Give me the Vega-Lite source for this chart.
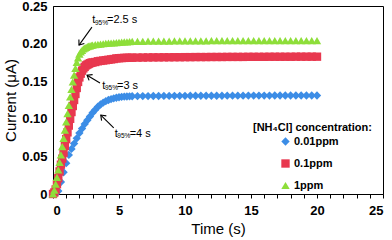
{
  "$schema": "https://vega.github.io/schema/vega-lite/v6.json",
  "width": 330,
  "height": 188,
  "autosize": "none",
  "padding": {"left": 53, "top": 6, "right": 9, "bottom": 46},
  "config": {
    "font": "Liberation Sans",
    "view": {"stroke": "#000", "strokeWidth": 1},
    "axis": {"grid": false, "domainColor": "#000", "tickColor": "#000", "labelColor": "#000", "titleColor": "#000", "labelFont": "Liberation Sans", "titleFont": "Liberation Sans"},
    "legend": {"labelFont": "Liberation Sans"}
  },
  "datasets": {
    "pts": [
      {"t":0,"c":0,"s":"0.01ppm"},{"t":0.2,"c":0,"s":"0.01ppm"},{"t":0.4,"c":0.004,"s":"0.01ppm"},{"t":0.6,"c":0.016,"s":"0.01ppm"},{"t":0.8,"c":0.029,"s":"0.01ppm"},{"t":1.0,"c":0.041,"s":"0.01ppm"},{"t":1.2,"c":0.052,"s":"0.01ppm"},{"t":1.4,"c":0.060,"s":"0.01ppm"},{"t":1.6,"c":0.067,"s":"0.01ppm"},{"t":1.8,"c":0.074,"s":"0.01ppm"},{"t":2.0,"c":0.081,"s":"0.01ppm"},{"t":2.2,"c":0.087,"s":"0.01ppm"},{"t":2.4,"c":0.093,"s":"0.01ppm"},{"t":2.6,"c":0.098,"s":"0.01ppm"},{"t":2.8,"c":0.103,"s":"0.01ppm"},{"t":3.0,"c":0.108,"s":"0.01ppm"},{"t":3.2,"c":0.112,"s":"0.01ppm"},{"t":3.4,"c":0.116,"s":"0.01ppm"},{"t":3.6,"c":0.119,"s":"0.01ppm"},{"t":3.8,"c":0.1215,"s":"0.01ppm"},{"t":4.0,"c":0.1235,"s":"0.01ppm"},{"t":4.2,"c":0.125,"s":"0.01ppm"},{"t":4.4,"c":0.1262,"s":"0.01ppm"},{"t":4.6,"c":0.1272,"s":"0.01ppm"},{"t":4.8,"c":0.128,"s":"0.01ppm"},{"t":5.0,"c":0.1287,"s":"0.01ppm"},{"t":5.2,"c":0.1292,"s":"0.01ppm"},{"t":5.4,"c":0.1295,"s":"0.01ppm"},{"t":5.6,"c":0.1297,"s":"0.01ppm"},{"t":5.8,"c":0.1299,"s":"0.01ppm"},{"t":6.0,"c":0.13,"s":"0.01ppm"},
      {"t":6.4,"c":0.1301,"s":"0.01ppm"},{"t":6.8,"c":0.1302,"s":"0.01ppm"},{"t":7.2,"c":0.1302,"s":"0.01ppm"},{"t":7.6,"c":0.1303,"s":"0.01ppm"},{"t":8.0,"c":0.1303,"s":"0.01ppm"},{"t":8.4,"c":0.1304,"s":"0.01ppm"},{"t":8.8,"c":0.1304,"s":"0.01ppm"},{"t":9.2,"c":0.1305,"s":"0.01ppm"},{"t":9.6,"c":0.1305,"s":"0.01ppm"},{"t":10.0,"c":0.1305,"s":"0.01ppm"},{"t":10.4,"c":0.1306,"s":"0.01ppm"},{"t":10.8,"c":0.1306,"s":"0.01ppm"},{"t":11.2,"c":0.1306,"s":"0.01ppm"},{"t":11.6,"c":0.1307,"s":"0.01ppm"},{"t":12.0,"c":0.1307,"s":"0.01ppm"},{"t":12.4,"c":0.1307,"s":"0.01ppm"},{"t":12.8,"c":0.1307,"s":"0.01ppm"},{"t":13.2,"c":0.1308,"s":"0.01ppm"},{"t":13.6,"c":0.1308,"s":"0.01ppm"},{"t":14.0,"c":0.1308,"s":"0.01ppm"},{"t":14.4,"c":0.1308,"s":"0.01ppm"},{"t":14.8,"c":0.1309,"s":"0.01ppm"},{"t":15.2,"c":0.1309,"s":"0.01ppm"},{"t":15.6,"c":0.1309,"s":"0.01ppm"},{"t":16.0,"c":0.1309,"s":"0.01ppm"},{"t":16.4,"c":0.1309,"s":"0.01ppm"},{"t":16.8,"c":0.131,"s":"0.01ppm"},{"t":17.2,"c":0.131,"s":"0.01ppm"},{"t":17.6,"c":0.131,"s":"0.01ppm"},{"t":18.0,"c":0.131,"s":"0.01ppm"},{"t":18.4,"c":0.131,"s":"0.01ppm"},{"t":18.8,"c":0.131,"s":"0.01ppm"},{"t":19.2,"c":0.131,"s":"0.01ppm"},{"t":19.6,"c":0.131,"s":"0.01ppm"},{"t":20.0,"c":0.131,"s":"0.01ppm"},

      {"t":0,"c":0,"s":"0.1ppm"},{"t":0.1,"c":0.002,"s":"0.1ppm"},{"t":0.2,"c":0.006,"s":"0.1ppm"},{"t":0.3,"c":0.013,"s":"0.1ppm"},{"t":0.4,"c":0.021,"s":"0.1ppm"},{"t":0.5,"c":0.030,"s":"0.1ppm"},{"t":0.6,"c":0.039,"s":"0.1ppm"},{"t":0.7,"c":0.047,"s":"0.1ppm"},{"t":0.8,"c":0.055,"s":"0.1ppm"},{"t":0.9,"c":0.064,"s":"0.1ppm"},{"t":1.0,"c":0.073,"s":"0.1ppm"},{"t":1.1,"c":0.082,"s":"0.1ppm"},{"t":1.2,"c":0.091,"s":"0.1ppm"},{"t":1.3,"c":0.100,"s":"0.1ppm"},{"t":1.4,"c":0.109,"s":"0.1ppm"},{"t":1.5,"c":0.117,"s":"0.1ppm"},{"t":1.6,"c":0.125,"s":"0.1ppm"},{"t":1.7,"c":0.133,"s":"0.1ppm"},{"t":1.8,"c":0.141,"s":"0.1ppm"},{"t":1.9,"c":0.149,"s":"0.1ppm"},{"t":2.0,"c":0.155,"s":"0.1ppm"},{"t":2.1,"c":0.160,"s":"0.1ppm"},{"t":2.2,"c":0.164,"s":"0.1ppm"},{"t":2.3,"c":0.167,"s":"0.1ppm"},{"t":2.4,"c":0.169,"s":"0.1ppm"},{"t":2.5,"c":0.171,"s":"0.1ppm"},{"t":2.6,"c":0.172,"s":"0.1ppm"},{"t":2.7,"c":0.173,"s":"0.1ppm"},{"t":2.8,"c":0.174,"s":"0.1ppm"},{"t":2.9,"c":0.1745,"s":"0.1ppm"},{"t":3.0,"c":0.175,"s":"0.1ppm"},
      {"t":3.2,"c":0.1755,"s":"0.1ppm"},{"t":3.4,"c":0.1765,"s":"0.1ppm"},{"t":3.6,"c":0.177,"s":"0.1ppm"},{"t":3.8,"c":0.1775,"s":"0.1ppm"},{"t":4.0,"c":0.178,"s":"0.1ppm"},{"t":4.2,"c":0.1785,"s":"0.1ppm"},{"t":4.4,"c":0.179,"s":"0.1ppm"},{"t":4.6,"c":0.1795,"s":"0.1ppm"},{"t":4.8,"c":0.1803,"s":"0.1ppm"},{"t":5.0,"c":0.1806,"s":"0.1ppm"},{"t":5.2,"c":0.1808,"s":"0.1ppm"},{"t":5.4,"c":0.181,"s":"0.1ppm"},{"t":5.6,"c":0.1811,"s":"0.1ppm"},{"t":5.8,"c":0.1812,"s":"0.1ppm"},{"t":6.0,"c":0.1813,"s":"0.1ppm"},
      {"t":6.4,"c":0.1814,"s":"0.1ppm"},{"t":6.8,"c":0.1815,"s":"0.1ppm"},{"t":7.2,"c":0.1816,"s":"0.1ppm"},{"t":7.6,"c":0.1817,"s":"0.1ppm"},{"t":8.0,"c":0.1817,"s":"0.1ppm"},{"t":8.4,"c":0.1818,"s":"0.1ppm"},{"t":8.8,"c":0.1818,"s":"0.1ppm"},{"t":9.2,"c":0.1819,"s":"0.1ppm"},{"t":9.6,"c":0.1819,"s":"0.1ppm"},{"t":10.0,"c":0.182,"s":"0.1ppm"},{"t":10.4,"c":0.182,"s":"0.1ppm"},{"t":10.8,"c":0.1821,"s":"0.1ppm"},{"t":11.2,"c":0.1821,"s":"0.1ppm"},{"t":11.6,"c":0.1821,"s":"0.1ppm"},{"t":12.0,"c":0.1822,"s":"0.1ppm"},{"t":12.4,"c":0.1822,"s":"0.1ppm"},{"t":12.8,"c":0.1822,"s":"0.1ppm"},{"t":13.2,"c":0.1823,"s":"0.1ppm"},{"t":13.6,"c":0.1823,"s":"0.1ppm"},{"t":14.0,"c":0.1823,"s":"0.1ppm"},{"t":14.4,"c":0.1823,"s":"0.1ppm"},{"t":14.8,"c":0.1824,"s":"0.1ppm"},{"t":15.2,"c":0.1824,"s":"0.1ppm"},{"t":15.6,"c":0.1824,"s":"0.1ppm"},{"t":16.0,"c":0.1824,"s":"0.1ppm"},{"t":16.4,"c":0.1825,"s":"0.1ppm"},{"t":16.8,"c":0.1825,"s":"0.1ppm"},{"t":17.2,"c":0.1825,"s":"0.1ppm"},{"t":17.6,"c":0.1825,"s":"0.1ppm"},{"t":18.0,"c":0.1825,"s":"0.1ppm"},{"t":18.4,"c":0.1826,"s":"0.1ppm"},{"t":18.8,"c":0.1826,"s":"0.1ppm"},{"t":19.2,"c":0.1826,"s":"0.1ppm"},{"t":19.6,"c":0.1826,"s":"0.1ppm"},{"t":20.0,"c":0.1826,"s":"0.1ppm"},

      {"t":0,"c":0,"s":"1ppm"},{"t":0.1,"c":0.005,"s":"1ppm"},{"t":0.2,"c":0.013,"s":"1ppm"},{"t":0.3,"c":0.022,"s":"1ppm"},{"t":0.4,"c":0.032,"s":"1ppm"},{"t":0.5,"c":0.042,"s":"1ppm"},{"t":0.6,"c":0.052,"s":"1ppm"},{"t":0.7,"c":0.063,"s":"1ppm"},{"t":0.8,"c":0.074,"s":"1ppm"},{"t":0.9,"c":0.085,"s":"1ppm"},{"t":1.0,"c":0.096,"s":"1ppm"},{"t":1.1,"c":0.107,"s":"1ppm"},{"t":1.2,"c":0.118,"s":"1ppm"},{"t":1.3,"c":0.129,"s":"1ppm"},{"t":1.4,"c":0.139,"s":"1ppm"},{"t":1.5,"c":0.149,"s":"1ppm"},{"t":1.6,"c":0.158,"s":"1ppm"},{"t":1.7,"c":0.167,"s":"1ppm"},{"t":1.8,"c":0.175,"s":"1ppm"},{"t":1.9,"c":0.181,"s":"1ppm"},{"t":2.0,"c":0.186,"s":"1ppm"},{"t":2.1,"c":0.189,"s":"1ppm"},{"t":2.2,"c":0.191,"s":"1ppm"},{"t":2.3,"c":0.193,"s":"1ppm"},{"t":2.4,"c":0.194,"s":"1ppm"},{"t":2.5,"c":0.195,"s":"1ppm"},{"t":2.6,"c":0.196,"s":"1ppm"},{"t":2.7,"c":0.1965,"s":"1ppm"},{"t":2.8,"c":0.197,"s":"1ppm"},{"t":2.9,"c":0.1975,"s":"1ppm"},{"t":3.0,"c":0.198,"s":"1ppm"},
      {"t":3.2,"c":0.1985,"s":"1ppm"},{"t":3.4,"c":0.199,"s":"1ppm"},{"t":3.6,"c":0.1994,"s":"1ppm"},{"t":3.8,"c":0.1998,"s":"1ppm"},{"t":4.0,"c":0.2002,"s":"1ppm"},{"t":4.2,"c":0.2005,"s":"1ppm"},{"t":4.4,"c":0.2008,"s":"1ppm"},{"t":4.6,"c":0.2011,"s":"1ppm"},{"t":4.8,"c":0.2014,"s":"1ppm"},{"t":5.0,"c":0.2017,"s":"1ppm"},{"t":5.2,"c":0.202,"s":"1ppm"},{"t":5.4,"c":0.2022,"s":"1ppm"},{"t":5.6,"c":0.2024,"s":"1ppm"},{"t":5.8,"c":0.2026,"s":"1ppm"},{"t":6.0,"c":0.2028,"s":"1ppm"},
      {"t":6.4,"c":0.203,"s":"1ppm"},{"t":6.8,"c":0.2031,"s":"1ppm"},{"t":7.2,"c":0.2032,"s":"1ppm"},{"t":7.6,"c":0.2033,"s":"1ppm"},{"t":8.0,"c":0.2033,"s":"1ppm"},{"t":8.4,"c":0.2034,"s":"1ppm"},{"t":8.8,"c":0.2034,"s":"1ppm"},{"t":9.2,"c":0.2035,"s":"1ppm"},{"t":9.6,"c":0.2035,"s":"1ppm"},{"t":10.0,"c":0.2036,"s":"1ppm"},{"t":10.4,"c":0.2036,"s":"1ppm"},{"t":10.8,"c":0.2037,"s":"1ppm"},{"t":11.2,"c":0.2037,"s":"1ppm"},{"t":11.6,"c":0.2037,"s":"1ppm"},{"t":12.0,"c":0.2038,"s":"1ppm"},{"t":12.4,"c":0.2038,"s":"1ppm"},{"t":12.8,"c":0.2038,"s":"1ppm"},{"t":13.2,"c":0.2039,"s":"1ppm"},{"t":13.6,"c":0.2039,"s":"1ppm"},{"t":14.0,"c":0.2039,"s":"1ppm"},{"t":14.4,"c":0.2039,"s":"1ppm"},{"t":14.8,"c":0.204,"s":"1ppm"},{"t":15.2,"c":0.204,"s":"1ppm"},{"t":15.6,"c":0.204,"s":"1ppm"},{"t":16.0,"c":0.204,"s":"1ppm"},{"t":16.4,"c":0.204,"s":"1ppm"},{"t":16.8,"c":0.204,"s":"1ppm"},{"t":17.2,"c":0.2041,"s":"1ppm"},{"t":17.6,"c":0.2041,"s":"1ppm"},{"t":18.0,"c":0.2041,"s":"1ppm"},{"t":18.4,"c":0.2041,"s":"1ppm"},{"t":18.8,"c":0.2041,"s":"1ppm"},{"t":19.2,"c":0.2041,"s":"1ppm"},{"t":19.6,"c":0.2041,"s":"1ppm"},{"t":20.0,"c":0.2041,"s":"1ppm"}
    ],
    "arrows": [
      {"x1":2.95,"y1":0.222,"x2":1.97,"y2":0.198,"ang":125.8},
      {"x1":3.56,"y1":0.1476,"x2":2.58,"y2":0.158,"ang":211.6},
      {"x1":4.6,"y1":0.0878,"x2":3.62,"y2":0.105,"ang":225}
    ],
    "labels": [
      {"x":2.977,"y":0.2270,"txt":"t","k":"main"},
      {"x":3.18,"y":0.2251,"txt":"95%","k":"sub"},
      {"x":4.09,"y":0.2270,"txt":"=2.5 s","k":"main"},
      {"x":3.735,"y":0.1396,"txt":"t","k":"main"},
      {"x":3.94,"y":0.1379,"txt":"95%","k":"sub"},
      {"x":4.85,"y":0.1396,"txt":"=3 s","k":"main"},
      {"x":4.674,"y":0.0758,"txt":"t","k":"main"},
      {"x":4.87,"y":0.0741,"txt":"95%","k":"sub"},
      {"x":5.81,"y":0.0758,"txt":"=4 s","k":"main"},
      {"x":15.15,"y":0.0878,"txt":"[NH₄Cl] concentration:","k":"leg"}
    ]
  },
  "layer": [
    {
      "data": {"name": "pts"},
      "mark": {"type": "point", "filled": true, "opacity": 1, "strokeWidth": 0},
      "encoding": {
        "x": {"field": "t", "type": "quantitative", "scale": {"domain": [0, 25], "nice": false},
          "axis": {"values": [0,1,2,3,4,5,6,7,8,9,10,11,12,13,14,15,16,17,18,19,20,21,22,23,24,25],
            "labelExpr": "datum.value % 5 === 0 ? datum.label : ''", "tickSize": 4, "labelPadding": 6,
            "labelFontSize": 13, "labelFontWeight": "bold", "title": "Time (s)", "titleFontSize": 15,
            "titleFontWeight": "normal", "titlePadding": 4}},
        "y": {"field": "c", "type": "quantitative", "scale": {"domain": [0, 0.25], "nice": false},
          "axis": {"values": [0, 0.05, 0.1, 0.15, 0.2, 0.25],
            "labelExpr": "datum.value === 0 ? '0' : format(datum.value, '.2f')", "ticks": false, "labelPadding": 6,
            "labelFontSize": 13, "labelFontWeight": "bold", "title": "Current (μA)", "titleFontSize": 15,
            "titleFontWeight": "normal", "titlePadding": 3}},
        "color": {"field": "s", "type": "nominal",
          "scale": {"domain": ["0.01ppm", "0.1ppm", "1ppm"], "range": ["#3C8DE6", "#E8384F", "#8EDE3A"]},
          "legend": {"orient": "none", "legendX": 227, "legendY": 130, "title": null, "padding": 0,
            "symbolSize": 30, "symbolStrokeWidth": 0, "labelFontSize": 11, "labelFontWeight": "bold",
            "labelOffset": 3, "rowPadding": 10}},
        "shape": {"field": "s", "type": "nominal",
          "scale": {"domain": ["0.01ppm", "0.1ppm", "1ppm"], "range": ["diamond", "square", "triangle-up"]}},
        "size": {"field": "s", "type": "nominal",
          "scale": {"domain": ["0.01ppm", "0.1ppm", "1ppm"], "range": [70, 70, 90]}, "legend": null}
      }
    },
    {
      "data": {"name": "arrows"},
      "mark": {"type": "rule", "color": "#000", "strokeWidth": 1.1},
      "encoding": {
        "x": {"field": "x1", "type": "quantitative",
          "axis": {"values": [0,1,2,3,4,5,6,7,8,9,10,11,12,13,14,15,16,17,18,19,20,21,22,23,24,25],
            "labelExpr": "datum.value % 5 === 0 ? datum.label : ''", "tickSize": 4, "labelPadding": 6,
            "labelFontSize": 13, "labelFontWeight": "bold", "title": "Time (s)", "titleFontSize": 15,
            "titleFontWeight": "normal", "titlePadding": 4}},
        "y": {"field": "y1", "type": "quantitative",
          "axis": {"values": [0, 0.05, 0.1, 0.15, 0.2, 0.25],
            "labelExpr": "datum.value === 0 ? '0' : format(datum.value, '.2f')", "ticks": false, "labelPadding": 6,
            "labelFontSize": 13, "labelFontWeight": "bold", "title": "Current (μA)", "titleFontSize": 15,
            "titleFontWeight": "normal", "titlePadding": 3}},
        "x2": {"field": "x2"},
        "y2": {"field": "y2"}
      }
    },
    {
      "data": {"name": "arrows"},
      "mark": {"type": "point", "shape": "M-1,-0.75L0,0L-1,0.75", "filled": false, "stroke": "#000", "strokeWidth": 1.1, "size": 80, "opacity": 1},
      "encoding": {
        "x": {"field": "x2", "type": "quantitative",
          "axis": {"values": [0,1,2,3,4,5,6,7,8,9,10,11,12,13,14,15,16,17,18,19,20,21,22,23,24,25],
            "labelExpr": "datum.value % 5 === 0 ? datum.label : ''", "tickSize": 4, "labelPadding": 6,
            "labelFontSize": 13, "labelFontWeight": "bold", "title": "Time (s)", "titleFontSize": 15,
            "titleFontWeight": "normal", "titlePadding": 4}},
        "y": {"field": "y2", "type": "quantitative",
          "axis": {"values": [0, 0.05, 0.1, 0.15, 0.2, 0.25],
            "labelExpr": "datum.value === 0 ? '0' : format(datum.value, '.2f')", "ticks": false, "labelPadding": 6,
            "labelFontSize": 13, "labelFontWeight": "bold", "title": "Current (μA)", "titleFontSize": 15,
            "titleFontWeight": "normal", "titlePadding": 3}},
        "angle": {"field": "ang", "type": "quantitative", "scale": null}
      }
    },
    {
      "data": {"name": "labels"},
      "transform": [{"filter": "datum.k === 'main'"}],
      "mark": {"type": "text", "align": "left", "baseline": "alphabetic", "fontSize": 11, "color": "#000"},
      "encoding": {
        "x": {"field": "x", "type": "quantitative",
          "axis": {"values": [0,1,2,3,4,5,6,7,8,9,10,11,12,13,14,15,16,17,18,19,20,21,22,23,24,25],
            "labelExpr": "datum.value % 5 === 0 ? datum.label : ''", "tickSize": 4, "labelPadding": 6,
            "labelFontSize": 13, "labelFontWeight": "bold", "title": "Time (s)", "titleFontSize": 15,
            "titleFontWeight": "normal", "titlePadding": 4}},
        "y": {"field": "y", "type": "quantitative",
          "axis": {"values": [0, 0.05, 0.1, 0.15, 0.2, 0.25],
            "labelExpr": "datum.value === 0 ? '0' : format(datum.value, '.2f')", "ticks": false, "labelPadding": 6,
            "labelFontSize": 13, "labelFontWeight": "bold", "title": "Current (μA)", "titleFontSize": 15,
            "titleFontWeight": "normal", "titlePadding": 3}},
        "text": {"field": "txt"}
      }
    },
    {
      "data": {"name": "labels"},
      "transform": [{"filter": "datum.k === 'sub'"}],
      "mark": {"type": "text", "align": "left", "baseline": "alphabetic", "fontSize": 6.5, "color": "#000"},
      "encoding": {
        "x": {"field": "x", "type": "quantitative",
          "axis": {"values": [0,1,2,3,4,5,6,7,8,9,10,11,12,13,14,15,16,17,18,19,20,21,22,23,24,25],
            "labelExpr": "datum.value % 5 === 0 ? datum.label : ''", "tickSize": 4, "labelPadding": 6,
            "labelFontSize": 13, "labelFontWeight": "bold", "title": "Time (s)", "titleFontSize": 15,
            "titleFontWeight": "normal", "titlePadding": 4}},
        "y": {"field": "y", "type": "quantitative",
          "axis": {"values": [0, 0.05, 0.1, 0.15, 0.2, 0.25],
            "labelExpr": "datum.value === 0 ? '0' : format(datum.value, '.2f')", "ticks": false, "labelPadding": 6,
            "labelFontSize": 13, "labelFontWeight": "bold", "title": "Current (μA)", "titleFontSize": 15,
            "titleFontWeight": "normal", "titlePadding": 3}},
        "text": {"field": "txt"}
      }
    },
    {
      "data": {"name": "labels"},
      "transform": [{"filter": "datum.k === 'leg'"}],
      "mark": {"type": "text", "align": "left", "baseline": "middle", "fontSize": 11, "fontWeight": "bold", "color": "#000"},
      "encoding": {
        "x": {"field": "x", "type": "quantitative",
          "axis": {"values": [0,1,2,3,4,5,6,7,8,9,10,11,12,13,14,15,16,17,18,19,20,21,22,23,24,25],
            "labelExpr": "datum.value % 5 === 0 ? datum.label : ''", "tickSize": 4, "labelPadding": 6,
            "labelFontSize": 13, "labelFontWeight": "bold", "title": "Time (s)", "titleFontSize": 15,
            "titleFontWeight": "normal", "titlePadding": 4}},
        "y": {"field": "y", "type": "quantitative",
          "axis": {"values": [0, 0.05, 0.1, 0.15, 0.2, 0.25],
            "labelExpr": "datum.value === 0 ? '0' : format(datum.value, '.2f')", "ticks": false, "labelPadding": 6,
            "labelFontSize": 13, "labelFontWeight": "bold", "title": "Current (μA)", "titleFontSize": 15,
            "titleFontWeight": "normal", "titlePadding": 3}},
        "text": {"field": "txt"}
      }
    }
  ]
}
